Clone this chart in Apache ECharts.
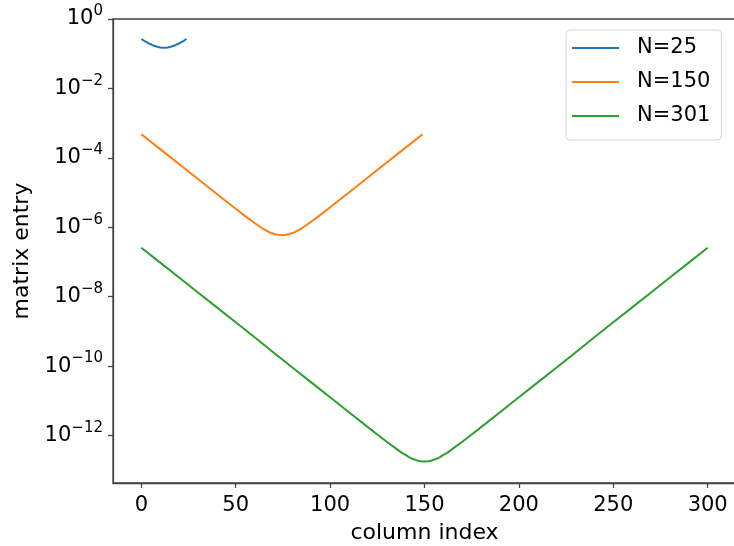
<!DOCTYPE html>
<html>
<head>
<meta charset="utf-8">
<script src="https://cdn.jsdelivr.net/npm/echarts@6/dist/echarts.min.js"></script>
<style>html,body{margin:0;padding:0;background:#fff}#c{width:734px;height:546px}</style>
</head>
<body>
<div id="c"></div>
<script>
// ---- data ----
const seriesNames = ['N=25', 'N=150', 'N=301'];

const colsN25 = [0, 2, 4, 6, 8, 10, 12, 14, 16, 18, 20, 22, 24];
const valsN25 = [0.2655, 0.2270, 0.1972, 0.1758, 0.1607, 0.1517, 0.1489, 0.1517, 0.1607, 0.1758, 0.1972, 0.2270, 0.2655];

const colsN150 = [0, 10, 20, 30, 40, 50, 55, 60, 64, 68, 71, 73, 74, 75, 76, 78, 81, 85, 89, 94, 99, 109, 119, 129, 139, 149];
const valsN150 = [4.79e-4, 1.78e-4, 6.61e-5, 2.45e-5, 9.12e-6, 3.39e-6, 2.09e-6, 1.32e-6, 9.33e-7, 7.08e-7, 6.31e-7, 5.96e-7, 5.89e-7,
                  5.89e-7, 5.96e-7, 6.31e-7, 7.08e-7, 9.33e-7, 1.32e-6, 2.09e-6, 3.39e-6, 9.12e-6, 2.45e-5, 6.61e-5, 1.78e-4, 4.79e-4];

const colsN301 = [0, 10, 20, 30, 40, 50, 60, 70, 80, 90, 100, 110, 120, 125, 130, 135, 138, 140, 142, 144, 146, 148, 150,
                  152, 154, 156, 158, 160, 162, 165, 170, 175, 180, 190, 200, 210, 220, 230, 240, 250, 260, 270, 280, 290, 300];
const valsN301 = [2.57e-7, 9.55e-8, 3.55e-8, 1.32e-8, 4.90e-9, 1.82e-9, 6.76e-10, 2.45e-10, 9.12e-11, 3.39e-11, 1.26e-11, 4.68e-12,
                  1.74e-12, 1.07e-12, 6.61e-13, 4.17e-13, 3.16e-13, 2.75e-13, 2.34e-13, 2.09e-13, 1.91e-13, 1.82e-13, 1.78e-13,
                  1.82e-13, 1.91e-13, 2.09e-13, 2.34e-13, 2.75e-13, 3.16e-13, 4.17e-13, 6.61e-13, 1.07e-12, 1.74e-12, 4.68e-12,
                  1.26e-11, 3.39e-11, 9.12e-11, 2.45e-10, 6.76e-10, 1.82e-9, 4.90e-9, 1.32e-8, 3.55e-8, 9.55e-8, 2.57e-7];

const xTicks = [0, 50, 100, 150, 200, 250, 300];
const yTicks = [1, 1e-2, 1e-4, 1e-6, 1e-8, 1e-10, 1e-12];

const colors = ['#1f77b4', '#ff7f0e', '#2ca02c'];
const FONT = 'DejaVu Sans';

function pairs(xs, ys) { return xs.map((x, i) => [x, ys[i]]); }
const allCols = [colsN25, colsN150, colsN301];
const allVals = [valsN25, valsN150, valsN301];

const chart = echarts.init(document.getElementById('c'), null, {renderer: 'canvas'});
chart.setOption({
  animation: false,
  backgroundColor: '#fff',
  grid: {left: 113, top: 19, right: -2, bottom: 63, show: true, borderColor: '#444', borderWidth: 1.3,
         containLabel: false, outerBoundsMode: 'none'},
  legend: {
    orient: 'vertical', left: 566, top: 30,
    data: seriesNames,
    icon: 'rect', itemWidth: 47, itemHeight: 2, itemGap: 10,
    padding: [6, 11, 12, 6],
    borderColor: '#d6d6d6', borderWidth: 1, borderRadius: 4,
    backgroundColor: 'rgba(255,255,255,0.8)',
    textStyle: {fontFamily: FONT, fontSize: 21, color: '#000', lineHeight: 24, padding: [0, 0, 0, 13]}
  },
  xAxis: {
    type: 'value', min: -15, max: 315,
    name: 'column index', nameLocation: 'middle', nameGap: 39,
    nameTextStyle: {fontFamily: FONT, fontSize: 22, color: '#000'},
    axisLine: {show: true, onZero: false, lineStyle: {color: '#444', width: 1.3}},
    axisTick: {show: true, length: 5, lineStyle: {color: '#444', width: 1.3}, customValues: xTicks},
    axisLabel: {fontFamily: FONT, fontSize: 21, color: '#000', margin: 12, customValues: xTicks},
    splitLine: {show: false}
  },
  yAxis: {
    type: 'log', logBase: 10, min: 4.27e-14, max: 1,
    name: 'matrix entry', nameLocation: 'middle', nameGap: 80,
    nameTextStyle: {fontFamily: FONT, fontSize: 22, color: '#000'},
    axisLine: {show: true, onZero: false, lineStyle: {color: '#444', width: 1.3}},
    axisTick: {show: true, length: 5, lineStyle: {color: '#444', width: 1.3}, customValues: yTicks},
    axisLabel: {
      margin: 10, customValues: yTicks,
      formatter: function (v) {
        const e = Math.round(Math.log10(v));
        const s = e < 0 ? '\u2212' + (-e) : String(e);
        return '{b|10}{s|' + s + '}';
      },
      rich: {
        b: {fontFamily: FONT, fontSize: 21, color: '#000', lineHeight: 30, verticalAlign: 'middle'},
        s: {fontFamily: FONT, fontSize: 15, color: '#000', verticalAlign: 'top'}
      }
    },
    splitLine: {show: false}
  },
  series: seriesNames.map((n, i) => ({
    name: n, type: 'line', data: pairs(allCols[i], allVals[i]),
    showSymbol: false, symbol: 'none', smooth: false,
    lineStyle: {color: colors[i], width: 2}, itemStyle: {color: colors[i]}
  }))
});
</script>
</body>
</html>
